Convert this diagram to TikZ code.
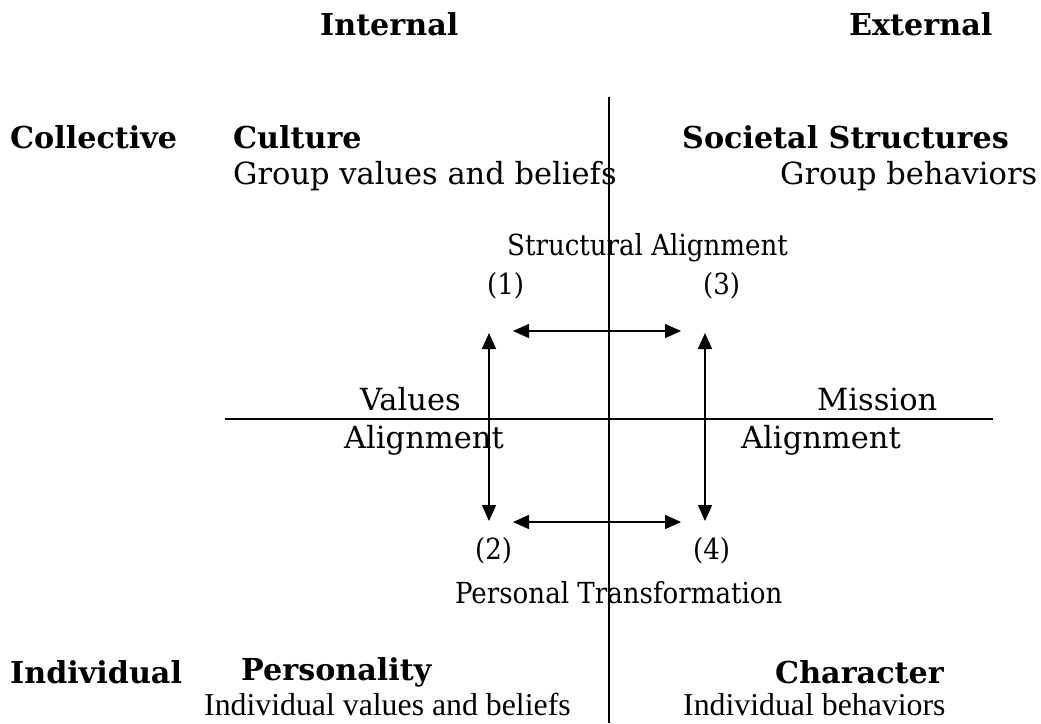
\documentclass[tikz,border=0pt]{standalone}
\usepackage{fontspec}
\setmainfont{DejaVu Serif}
\newfontfamily\condfont{DejaVu Serif Condensed}
\newfontfamily\timesfont{Liberation Serif}
\usetikzlibrary{arrows.meta}
\begin{document}
\begin{tikzpicture}[x=1pt,y=-1pt,
  lbl/.style={inner sep=0pt,anchor=west,font=\fontsize{30.5}{34}\selectfont},
  mid/.style={inner sep=0pt,anchor=base west,font=\condfont\fontsize{29}{33}\selectfont},
  hdr/.style={inner sep=0pt,anchor=west,font=\fontsize{30.2}{34}\selectfont\bfseries},
  small/.style={inner sep=0pt,anchor=base west,font=\timesfont\fontsize{31.8}{35}\selectfont},
  axis/.style={line width=1.3pt},
  dbl/.style={line width=1.5pt,{Triangle[length=16pt,width=14pt]}-{Triangle[length=16pt,width=14pt]}}]
\useasboundingbox (0,0) rectangle (1041,723);
% axes
\coordinate (vtop) at (609,97);
\coordinate (vbot) at (609,723);
\coordinate (hl) at (225,419);
\coordinate (hr) at (993,419);
\draw[axis] (vtop) -- (vbot);
\draw[axis] (hl) -- (hr);
% headers
\node[hdr] (int) at (320,24) {Internal};
\node[hdr] (ext) at (849,24) {External};
\node[hdr] (coll) at (10,137) {Collective};
\node[hdr] (cult) at (233,137) {Culture};
\node[hdr] (soc) at (682,137) {Societal Structures};
\node[lbl] (gvb) at (233,176) {Group values and beliefs};
\node[lbl] (gb) at (780,176) {Group behaviors};
\node[mid] (sa) at (507,255) {Structural Alignment};
\node[mid] (n1) at (487,294) {(1)};
\node[mid] (n3) at (703,294) {(3)};
\node[lbl] (val) at (360,399) {Values};
\node[lbl] (va) at (344,440) {Alignment};
\node[lbl] (mis) at (817,399) {Mission};
\node[lbl] (ma) at (741,440) {Alignment};
\node[mid] (n2) at (475,559) {(2)};
\node[mid] (n4) at (693,559) {(4)};
\node[mid] (pt) at (455,603) {Personal Transformation};
\node[hdr] (ind) at (10,672) {Individual};
\node[hdr] (pers) at (241,672) {Personality};
\node[hdr] (char) at (775,672) {Character};
\node[small] (ivb) at (204,715) {Individual values and beliefs};
\node[small] (ib) at (683,715) {Individual behaviors};
% arrow endpoints
\coordinate (a1) at (513,331);
\coordinate (a3) at (681,331);
\coordinate (b2) at (513,522);
\coordinate (b4) at (681,522);
\coordinate (l1) at (489,333);
\coordinate (l2) at (489,521);
\coordinate (r3) at (705,333);
\coordinate (r4) at (705,521);
\draw[dbl] (a1) -- (a3);
\draw[dbl] (b2) -- (b4);
\draw[dbl] (l1) -- (l2);
\draw[dbl] (r3) -- (r4);
\end{tikzpicture}
\end{document}
